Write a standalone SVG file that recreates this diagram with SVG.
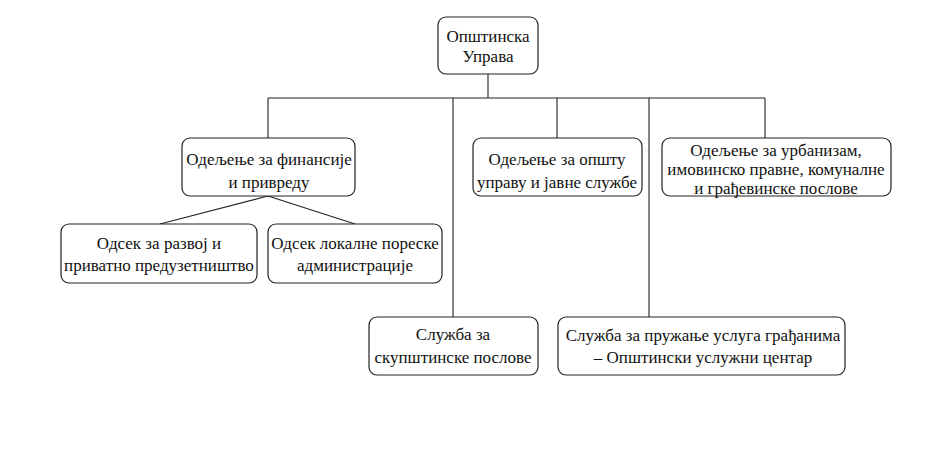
<svg xmlns="http://www.w3.org/2000/svg" width="946" height="459" viewBox="0 0 946 459">
<style>
.box{fill:#fff;stroke:#222;stroke-width:1.2}
.t{font-size:17px;fill:#111;text-anchor:middle}
.c{fill:none;stroke:#222;stroke-width:1.1}
</style>
<rect width="946" height="459" fill="#fff"/>
<g id="connectors">
<path class="c" d="M488 74V98M268 98H765M268 98V138M453 98V317M557 98V138M649 98V317M765 98V138"/>
<path class="c" d="M268 196L160 224M268 196L355 224"/>
</g>
<g font-family="Liberation Serif">
<g id="root"><rect class="box" x="438" y="17" width="100" height="57" rx="8"/>
<text class="t" font-family="Liberation Serif" x="488" y="42">Општинска</text><text class="t" font-family="Liberation Serif" x="488" y="62">Управа</text></g>
<g id="finance"><rect class="box" x="182" y="138" width="173" height="58" rx="8"/>
<text class="t" font-family="Liberation Serif" x="269" y="165">Одељење за финансије</text><text class="t" font-family="Liberation Serif" x="269" y="188">и привреду</text></g>
<g id="opsta"><rect class="box" x="473" y="138" width="169" height="58" rx="8"/>
<text class="t" font-family="Liberation Serif" x="557" y="165">Одељење за општу</text><text class="t" font-family="Liberation Serif" x="557" y="188">управу и јавне службе</text></g>
<g id="urban"><rect class="box" x="662" y="138" width="229" height="58" rx="8"/>
<text class="t" font-family="Liberation Serif" x="776" y="156">Одељење за урбанизам,</text><text class="t" font-family="Liberation Serif" x="776" y="175">имовинско правне, комуналне</text><text class="t" font-family="Liberation Serif" x="776" y="194">и грађевинске послове</text></g>
<g id="razvoj"><rect class="box" x="61" y="224" width="196" height="59" rx="8"/>
<text class="t" font-family="Liberation Serif" x="159" y="249">Одсек за развој и</text><text class="t" font-family="Liberation Serif" x="159" y="271">приватно предузетништво</text></g>
<g id="poreske"><rect class="box" x="268" y="224" width="174" height="59" rx="8"/>
<text class="t" font-family="Liberation Serif" x="355" y="249">Одсек локалне пореске</text><text class="t" font-family="Liberation Serif" x="355" y="271">администрације</text></g>
<g id="skupstinske"><rect class="box" x="369" y="317" width="169" height="58" rx="8"/>
<text class="t" font-family="Liberation Serif" x="453" y="340">Служба за</text><text class="t" font-family="Liberation Serif" x="453" y="363">скупштинске послове</text></g>
<g id="gradjani"><rect class="box" x="558" y="317" width="287" height="58" rx="8"/>
<text class="t" font-family="Liberation Serif" x="703" y="341">Служба за пружање услуга грађанима</text><text class="t" font-family="Liberation Serif" x="703" y="363">– Општински услужни центар</text></g>
</g>
</svg>
